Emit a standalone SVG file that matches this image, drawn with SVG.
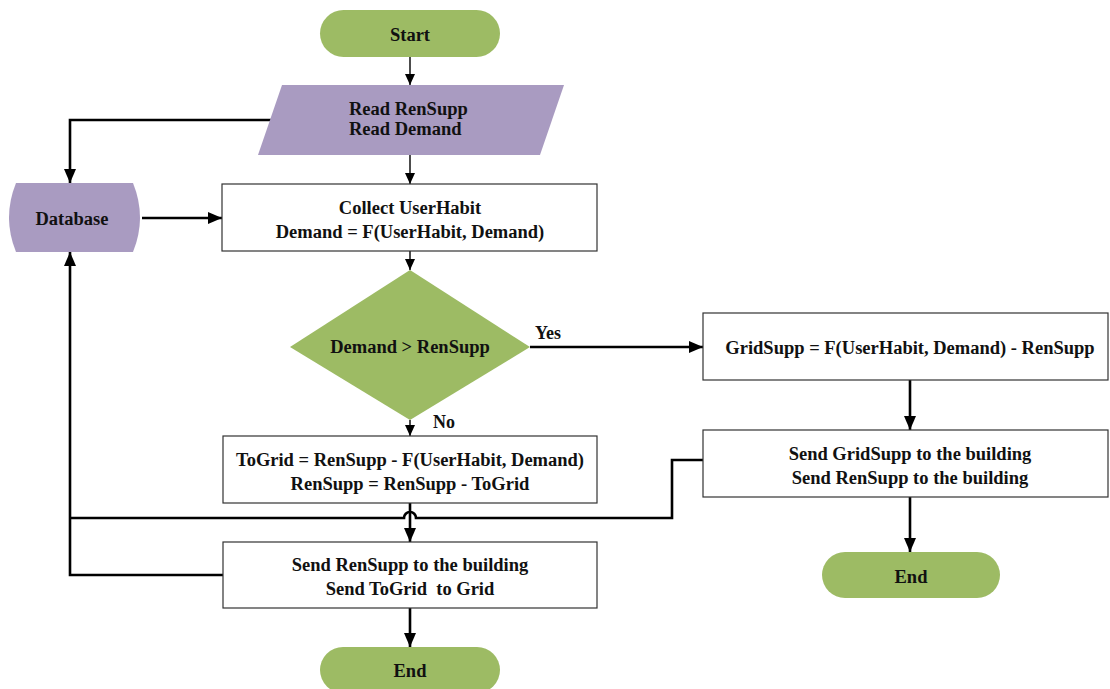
<svg xmlns="http://www.w3.org/2000/svg" width="1110" height="689" viewBox="0 0 1110 689">
<style>
text{font-family:"Liberation Serif","Times New Roman",serif;font-weight:bold;font-size:18.5px;fill:#111;text-anchor:middle}
.green{fill:#9dbb64}
.purple{fill:#a99bc1}
.box{fill:#fff;stroke:#333;stroke-width:1.2}
.thin{fill:none;stroke:#000;stroke-width:1.4}
.thick{fill:none;stroke:#000;stroke-width:2.6}
</style>
<defs>
<marker id="ah" markerUnits="userSpaceOnUse" markerWidth="16" markerHeight="16" refX="14" refY="8" orient="auto">
<path d="M0,2 L14,8 L0,14 Z" fill="#000"/>
</marker>
<marker id="ahs" markerUnits="userSpaceOnUse" markerWidth="14" markerHeight="14" refX="11" refY="7" orient="auto">
<path d="M0,2 L11,7 L0,12 Z" fill="#000"/>
</marker>
</defs>
<g id="connectors">
<path class="thin" d="M410,57 V85" marker-end="url(#ahs)"/>
<path class="thin" d="M410,155 V184" marker-end="url(#ahs)"/>
<path class="thin" d="M410,251 V270" marker-end="url(#ahs)"/>
<path class="thin" d="M410,420 V436" marker-end="url(#ahs)"/>
<path class="thick" d="M272,120 H70 V183" marker-end="url(#ah)"/>
<path class="thick" d="M142,218 H222" marker-end="url(#ah)"/>
<path class="thick" d="M530,347 H703" marker-end="url(#ah)"/>
<path class="thick" d="M910,380 V430" marker-end="url(#ah)"/>
<path class="thick" d="M910,497 V552" marker-end="url(#ah)"/>
<path class="thick" d="M410,503 V542" marker-end="url(#ah)"/>
<path class="thick" d="M410,608 V647" marker-end="url(#ah)"/>
<path class="thick" d="M703,460 H672 V518 H416 A6,6 0 0 0 404,518 H70"/>
<path class="thick" d="M223,575 H70 V252" marker-end="url(#ah)"/>
<text x="548" y="339" style="font-size:18px">Yes</text>
<text x="444" y="428" style="font-size:18px">No</text>
</g>
<g id="start">
<rect class="green" x="320" y="10" width="180" height="47" rx="23.5"/>
<text x="410" y="41">Start</text>
</g>
<g id="read">
<polygon class="purple" points="282,85 564,85 540,155 258,155"/>
<text x="349" y="115" style="text-anchor:start">Read RenSupp</text>
<text x="349" y="135" style="text-anchor:start">Read Demand</text>
</g>
<g id="database">
<path class="purple" d="M16,183 H133 Q147,217.5 133,252 H16 Q2,217.5 16,183 Z"/>
<text x="72" y="225">Database</text>
</g>
<g id="collect">
<rect class="box" x="222" y="184" width="375" height="67"/>
<text x="410" y="214">Collect UserHabit</text>
<text x="410" y="238">Demand = F(UserHabit, Demand)</text>
</g>
<g id="decision">
<polygon class="green" points="410,270 530,347 410,420 290,347"/>
<text x="410" y="353">Demand &gt; RenSupp</text>
</g>
<g id="gridsupp">
<rect class="box" x="703" y="313" width="405" height="67"/>
<text x="910" y="354">GridSupp = F(UserHabit, Demand) - RenSupp</text>
</g>
<g id="sendgrid">
<rect class="box" x="703" y="430" width="405" height="67"/>
<text x="910" y="460">Send GridSupp to the building</text>
<text x="910" y="484">Send RenSupp to the building</text>
</g>
<g id="end2">
<rect class="green" x="822" y="552" width="178" height="46" rx="23"/>
<text x="911" y="583">End</text>
</g>
<g id="togrid">
<rect class="box" x="223" y="436" width="374" height="67"/>
<text x="410" y="466">ToGrid = RenSupp - F(UserHabit, Demand)</text>
<text x="410" y="490">RenSupp = RenSupp - ToGrid</text>
</g>
<g id="sendren">
<rect class="box" x="223" y="542" width="374" height="66"/>
<text x="410" y="571">Send RenSupp to the building</text>
<text x="410" y="595" xml:space="preserve">Send ToGrid  to Grid</text>
</g>
<g id="end1">
<rect class="green" x="320" y="647" width="180" height="46" rx="23"/>
<text x="410" y="677">End</text>
</g>
</svg>
